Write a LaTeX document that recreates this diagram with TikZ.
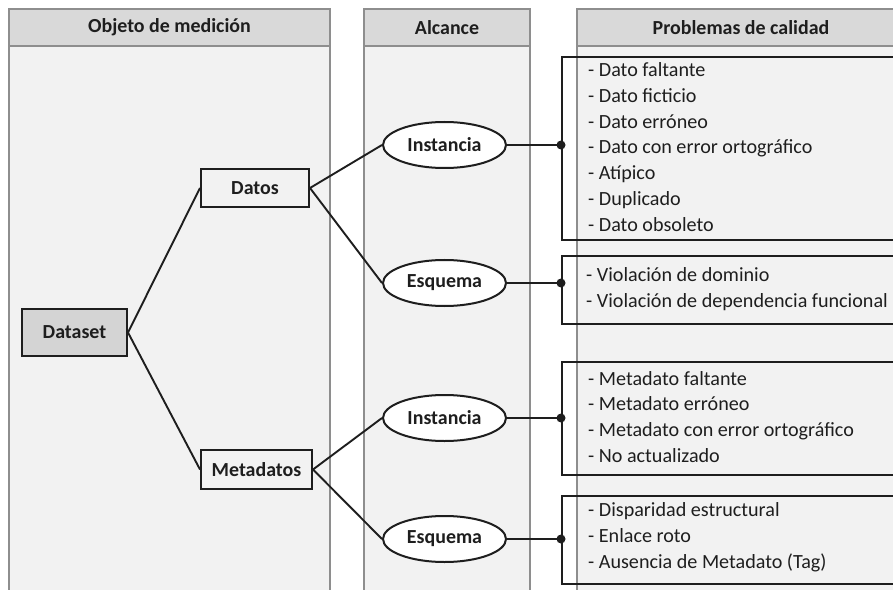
\documentclass[tikz,border=0pt]{standalone}
\usepackage{fontspec}
\setmainfont{Carlito}
\usetikzlibrary{shapes.geometric}
\definecolor{colbg}{HTML}{F2F2F2}
\definecolor{hdbg}{HTML}{D9D9D9}
\definecolor{dsbg}{HTML}{D4D4D4}
\definecolor{colline}{HTML}{8E8E8E}
\definecolor{ink}{HTML}{1E1E1E}
\begin{document}
\begin{tikzpicture}[x=1bp,y=-1bp,
  panel/.style={draw=colline, line width=1.3bp, fill=colbg},
  hdr/.style={draw=colline, line width=1.3bp, fill=hdbg, font=\fontsize{20}{24}\selectfont\bfseries, text=ink, inner sep=0pt},
  objbox/.style={draw=ink, line width=2bp, fill=colbg, font=\fontsize{20}{24}\selectfont\bfseries, text=ink, inner sep=0pt},
  scope/.style={ellipse, draw=ink, line width=2bp, fill=white, minimum width=123bp, minimum height=46bp, inner sep=0pt, font=\fontsize{20}{24}\selectfont\bfseries, text=ink},
  probbox/.style={draw=ink, line width=2bp, inner sep=0pt},
  items/.style={anchor=west, align=left, inner sep=0pt, font=\fontsize{20.2}{26}\selectfont, text=ink},
  link/.style={draw=ink, line width=1.9bp},
  dot/.style={circle, fill=ink, inner sep=0pt, minimum size=9bp}
]
\useasboundingbox (0,0) rectangle (893,590);
\clip (0,0) rectangle (893,590);
\fill[white] (0,0) rectangle (893,590);
% column panels
\draw[panel] (9,46) rectangle (330,610);
\draw[panel] (364,46) rectangle (530,610);
\draw[panel] (577,46) rectangle (905,610);
\node[hdr, minimum width=321bp, minimum height=37bp] (h1) at (169.5,27.5) {Objeto de medición};
\node[hdr, minimum width=166bp, minimum height=37bp] (h2) at (447,27.5) {Alcance};
\node[hdr, minimum width=328bp, minimum height=37bp] (h3) at (741,27.5) {Problemas de calidad};
% object nodes
\node[objbox, fill=dsbg, minimum width=105bp, minimum height=47bp] (ds) at (74.5,332.5) {Dataset};
\node[objbox, minimum width=108bp, minimum height=38bp] (datos) at (255,188) {Datos};
\node[objbox, minimum width=111bp, minimum height=39bp] (meta) at (256.5,469.5) {Metadatos};
% scope ellipses
\node[scope] (i1) at (444.5,145) {Instancia};
\node[scope] (e1) at (444.5,283) {Esquema};
\node[scope] (i2) at (444.5,418) {Instancia};
\node[scope] (e2) at (444.5,539) {Esquema};
% problem boxes
\node[probbox, anchor=north west, minimum width=360bp, minimum height=183bp] (b1) at (561,56) {};
\node[probbox, anchor=north west, minimum width=360bp, minimum height=68bp] (b2) at (561,255) {};
\node[probbox, anchor=north west, minimum width=360bp, minimum height=113bp] (b3) at (561,361) {};
\node[probbox, anchor=north west, minimum width=360bp, minimum height=88bp] (b4) at (561,495) {};
\node[items] (t1) at ([xshift=27bp,yshift=1.5bp]b1.west) {- Dato faltante\\- Dato ficticio\\- Dato erróneo\\- Dato con error ortográfico\\- Atípico\\- Duplicado\\- Dato obsoleto};
\node[items] (t2) at ([xshift=25bp,yshift=1bp]b2.west) {- Violación de dominio\\- Violación de dependencia funcional};
\node[items] (t3) at ([xshift=27bp,yshift=1.5bp]b3.west) {- Metadato faltante\\- Metadato erróneo\\- Metadato con error ortográfico\\- No actualizado};
\node[items] (t4) at ([xshift=27bp,yshift=2.5bp]b4.west) {- Disparidad estructural\\- Enlace roto\\- Ausencia de Metadato (Tag)};
% dots on box edges
\node[dot] (d1) at (b1.west |- i1) {};
\node[dot] (d2) at (b2.west |- e1) {};
\node[dot] (d3) at (b3.west |- i2) {};
\node[dot] (d4) at (b4.west |- e2) {};
% connectors
\draw[link] (ds.east) -- (datos.west);
\draw[link] (ds.east) -- (meta.west);
\draw[link] (datos.east) -- (i1.west);
\draw[link] (datos.east) -- (e1.west);
\draw[link] (meta.east) -- (i2.west);
\draw[link] (meta.east) -- (e2.west);
\draw[link] (i1.east) -- (d1.center);
\draw[link] (e1.east) -- (d2.center);
\draw[link] (i2.east) -- (d3.center);
\draw[link] (e2.east) -- (d4.center);
\end{tikzpicture}
\end{document}
